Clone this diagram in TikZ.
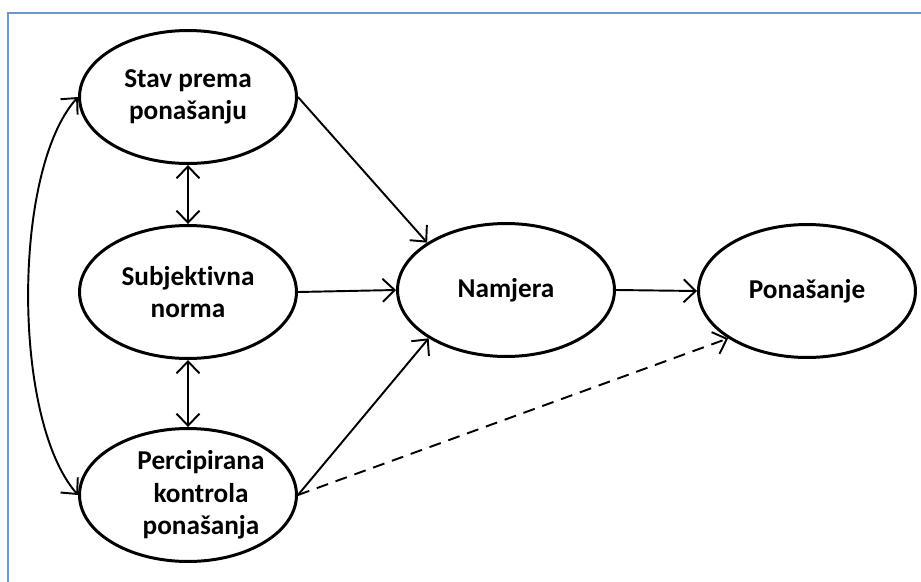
\documentclass[tikz,border=0pt]{standalone}
\usepackage{fontspec}
\setmainfont{Carlito}[Ligatures=NoCommon]
\usetikzlibrary{shapes.geometric,arrows.meta}
\definecolor{frameblue}{RGB}{108,150,208}

\begin{document}
\begin{tikzpicture}[x=0.02cm,y=-0.02cm,
  every node/.style={font=\fontsize{15.5}{18.5}\selectfont\bfseries, align=center},
  construct/.style={ellipse, draw=black, line width=1.7pt, fill=white, inner sep=0pt,
    minimum width=4.34cm, minimum height=2.66cm},
  link/.style={line width=1.1pt, -{Straight Barb[length=2.4mm,width=4.6mm]}},
  mutual/.style={line width=1.1pt, {Straight Barb[length=2.4mm,width=4.6mm]}-{Straight Barb[length=2.4mm,width=4.6mm]}}]
\useasboundingbox (0,0) rectangle (921,582);
\draw[frameblue, line width=1.5pt] (8,582) -- (8,13) -- (921,13);

\node[construct] (stav) at (188,97) {Stav prema\\ponašanju};
\node[construct] (subj) at (188,292) {Subjektivna\\norma};
\node[construct, label={[xshift=0.26cm]center:Percipirana\\kontrola\\ponašanja}] (perc) at (188,495) {};
\node[construct] (namj) at (506,290) {Namjera};
\node[construct] (pona) at (807,291) {Ponašanje};

\draw[link] (stav.east) -- (namj.149);
\draw[link] (subj.east) -- (namj.west);
\draw[link] (perc.east) -- (namj.212);
\draw[link] (namj.east) -- (pona.west);
\draw[link, dash pattern=on 2.4mm off 1.6mm] (perc.east) -- (pona.211);

\draw[mutual] (stav.south) -- (subj.north);
\draw[mutual] (subj.south) -- (perc.north);
\draw[mutual] (stav.west) .. controls (12,170) and (12,420) .. (perc.west);
\end{tikzpicture}
\end{document}
